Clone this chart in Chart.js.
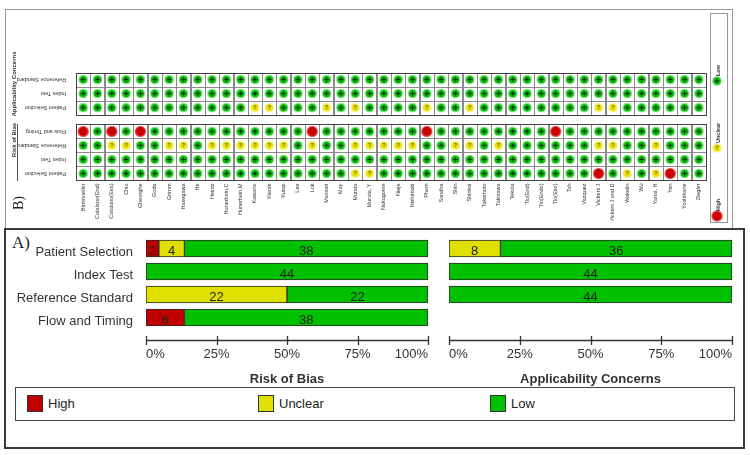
<!DOCTYPE html>
<html>
<head>
<meta charset="utf-8">
<script src="https://cdn.jsdelivr.net/npm/chart.js@4.4.1/dist/chart.umd.min.js"></script>
<style>
  body { margin: 0; background: #fff; width: 750px; height: 455px; position: relative; overflow: hidden;
         font-family: "Liberation Sans", Arial, sans-serif; }
  .abs { position: absolute; }
  #frameB { left: 5px; top: 9px; width: 726px; height: 219px; border: 1px solid #999; border-bottom: none; }
  #frameA { left: 4px; top: 228px; border: 2px solid #3a3a3a; box-sizing: border-box; width: 741px; height: 221px; }
  #legA { left: 15px; top: 387px; width: 720px; height: 34px; border: 1.5px solid #444; box-sizing: border-box; }
  .sw { width: 16px; height: 17px; border: 1px solid #333; box-sizing: border-box; top: 395px; }
  .lt { top: 395px; height: 17px; line-height: 17px; font-size: 13px; color: #222; }
  #tagA { left: 12px; top: 233px; font-family: "Liberation Serif", "Times New Roman", serif; font-size: 17px; color: #222; }
  canvas { position: absolute; }
</style>
</head>
<body>
<div id="frameB" class="abs"></div>
<div id="frameA" class="abs"></div>
<div id="legA" class="abs"></div>
<div class="abs sw" style="left:27px;background:#c00000"></div><div class="abs lt" style="left:48px">High</div>
<div class="abs sw" style="left:258px;background:#e0e000"></div><div class="abs lt" style="left:279px">Unclear</div>
<div class="abs sw" style="left:490px;background:#00c000"></div><div class="abs lt" style="left:511px">Low</div>
<div id="tagA" class="abs">A)</div>

<canvas id="grid" width="750" height="228" style="left:0;top:0"></canvas>
<canvas id="rob" width="440" height="158" style="left:0;top:229px"></canvas>
<canvas id="app" width="305" height="158" style="left:440px;top:229px"></canvas>

<script>
// studies, left to right
const studies = ['Bimmoeller','Catalano(End)','Catalano(Eva)','Chio','Gheorghe','Goda','Grimm','Hasegawa','He','Heintz',
  'Hunerbein,C','Hunerbein,M','Kawano','Kienle','Kutup','Lee','Lok','Massari','May','Murata',
  'Murata, Y','Nakagome','Nieje','Nishimaki','Pham','Sandha','Shin','Shinkai','Takemoto','Takizawa',
  'Tekola','Tio(End)','Tio(Endo)','Tio(Eso)','Toh','Vazquez','Vickers J','Vickers J and D','Wakelin','Wu',
  'Yanai, H','Yen','Yoshikane','Ziegler'];

// judgements per study: L = low, U = unclear, H = high
const robPatient   = 'LLLLLLLLLL LLLLLLLLLU ULLLLLLLLL LLLLLLHLUL UHLL'.replace(/ /g,'').split('');
const robIndex     = 'LLLLLLLLLL LLLLLLLLLL LLLLLLLLLL LLLLLLLLLL LLLL'.replace(/ /g,'').split('');
const robReference = 'LLUULLUULU UUUUULULLU UUUULLUULU LLLLLLUULL ULLL'.replace(/ /g,'').split('');
const robFlow      = 'HLHLHLLLLL LLLLLLHLLL LLLLHLLLLL LLLHLLLLLL LLLL'.replace(/ /g,'').split('');
const appPatient   = 'LLLLLLLLLL LLUULLLULU LLLLULLULL LLLLLLUULL LLLL'.replace(/ /g,'').split('');
const appIndex     = 'LLLLLLLLLL LLLLLLLLLL LLLLLLLLLL LLLLLLLLLL LLLL'.replace(/ /g,'').split('');
const appReference = 'LLLLLLLLLL LLLLLLLLLL LLLLLLLLLL LLLLLLLLLL LLLL'.replace(/ /g,'').split('');

// summary bars (number of studies)
const domains = ['Patient Selection','Index Test','Reference Standard','Flow and Timing'];
const robHigh    = [2, 0, 0, 6];
const robUnclear = [4, 0, 22, 0];
const robLow     = [38, 44, 22, 38];
const appHigh    = [0, 0, 0];
const appUnclear = [8, 0, 0];
const appLow     = [36, 44, 44];
const nStudies = 44;
const pctTicks = [0, 25, 50, 75, 100];

const RED = '#c00000', YEL = '#e0e000', GRN = '#00c000';
Chart.defaults.font.family = '"Liberation Sans", Arial, sans-serif';

// ---------- symbols for the traffic light grid
function makeSymbol(core, halo, r, mark) {
  const c = document.createElement('canvas');
  c.width = 13; c.height = 13;
  const g = c.getContext('2d');
  g.fillStyle = halo; g.beginPath(); g.arc(6.5, 6.5, r + 1.2, 0, Math.PI * 2); g.fill();
  g.fillStyle = core; g.beginPath(); g.arc(6.5, 6.5, r, 0, Math.PI * 2); g.fill();
  if (mark === '+') {
    g.strokeStyle = '#111'; g.lineWidth = 1;
    g.beginPath(); g.moveTo(4.5, 6.5); g.lineTo(8.5, 6.5); g.moveTo(6.5, 4.5); g.lineTo(6.5, 8.5); g.stroke();
  } else if (mark === '?') {
    g.fillStyle = '#444'; g.font = 'bold 5px "Liberation Sans"';
    g.textAlign = 'center'; g.textBaseline = 'middle'; g.fillText('?', 6.5, 6.8);
  }
  return c;
}
const symLow = makeSymbol('#00b800', '#7ee07e', 3.6, '+');
const symUnc = makeSymbol('#ece400', '#f6f2a0', 3.6, '?');
const symHigh = makeSymbol('#cc0000', '#d84040', 4.4, '');

const rows = [
  { name: 'Patient Selection', pos: 0, vals: robPatient },
  { name: 'Index Test', pos: 1, vals: robIndex },
  { name: 'Reference Standard', pos: 2, vals: robReference },
  { name: 'Flow and Timing', pos: 3, vals: robFlow },
  { name: 'Patient Selection', pos: 4.7, vals: appPatient },
  { name: 'Index Test', pos: 5.7, vals: appIndex },
  { name: 'Reference Standard', pos: 6.7, vals: appReference }
];
function pointsFor(code) {
  const pts = [];
  rows.forEach(r => r.vals.forEach((v, i) => { if (v === code) pts.push({ x: studies[i], y: r.pos }); }));
  return pts;
}

const gridDecor = {
  id: 'gridDecor',
  beforeDatasetsDraw(chart) {
    const { ctx, scales: { x, y } } = chart;
    const cw = x.getPixelForValue(1) - x.getPixelForValue(0);
    const ch = y.getPixelForValue(0) - y.getPixelForValue(1);
    ctx.save();
    ctx.strokeStyle = '#8a8a8a'; ctx.lineWidth = 1;
    rows.forEach(r => {
      const cy = y.getPixelForValue(r.pos);
      for (let i = 0; i < studies.length; i++) {
        const cx = x.getPixelForValue(i);
        ctx.strokeRect(Math.round(cx - cw / 2) + 0.5, Math.round(cy - ch / 2) + 0.5, Math.round(cw), Math.round(ch));
      }
    });
    // group outlines
    ctx.strokeStyle = '#444';
    [[0, 3], [4.7, 6.7]].forEach(([a, b]) => {
      const top = Math.round(y.getPixelForValue(b) - ch / 2) + 0.5;
      const bot = Math.round(y.getPixelForValue(a) + ch / 2) + 0.5;
      const l = Math.round(x.getPixelForValue(0) - cw / 2) + 0.5;
      const rr = Math.round(x.getPixelForValue(studies.length - 1) - cw / 2) + Math.round(cw) + 0.5;
      ctx.strokeRect(l, top, rr - l, bot - top);
    });
    ctx.restore();
  },
  afterDraw(chart) {
    const { ctx, scales: { y } } = chart;
    ctx.save();
    ctx.fillStyle = '#333';
    ctx.font = '5.5px "Liberation Sans"';
    ctx.textBaseline = 'middle';
    rows.forEach(r => {
      ctx.save();
      ctx.translate(chart.chartArea.left - 10, y.getPixelForValue(r.pos));
      ctx.rotate(Math.PI);
      ctx.textAlign = 'left';
      ctx.fillText(r.name, 0, 0);
      ctx.restore();
    });
    // group titles
    ctx.font = 'bold 6px "Liberation Sans"';
    ctx.textAlign = 'center';
    [['Applicability Concerns', 84], ['Risk of Bias', 140]].forEach(([t, cy]) => {
      ctx.save(); ctx.translate(14, cy); ctx.rotate(-Math.PI / 2); ctx.fillText(t, 0, 0); ctx.restore();
    });
    ctx.strokeStyle = '#555'; ctx.lineWidth = 1;
    ctx.beginPath(); ctx.moveTo(17.5, 124); ctx.lineTo(17.5, 181); ctx.stroke();
    // panel tag
    ctx.font = '14px "Liberation Serif"';
    ctx.fillStyle = '#222';
    ctx.save(); ctx.translate(19, 203); ctx.rotate(-Math.PI / 2); ctx.fillText('B)', 0, 0); ctx.restore();
    // legend
    ctx.strokeStyle = '#999';
    ctx.strokeRect(710.5, 13.5, 17, 209);
    ctx.font = 'bold 5.5px "Liberation Sans"';
    ctx.fillStyle = '#333';
    ctx.textAlign = 'left';
    [[symHigh, 'High', 216], [symUnc, 'Unclear', 148], [symLow, 'Low', 81]].forEach(([img, t, cy]) => {
      ctx.drawImage(img, 717 - 6.5, cy - 6.5);
      ctx.save(); ctx.translate(718, cy - 5); ctx.rotate(-Math.PI / 2); ctx.fillText(t, 0, 0); ctx.restore();
    });
    ctx.restore();
  }
};

new Chart(document.getElementById('grid'), {
  type: 'scatter',
  data: {
    datasets: [
      { label: 'Low', data: pointsFor('L'), pointStyle: symLow },
      { label: 'Unclear', data: pointsFor('U'), pointStyle: symUnc },
      { label: 'High', data: pointsFor('H'), pointStyle: symHigh }
    ]
  },
  options: {
    responsive: false, animation: false,
    layout: { padding: { left: 76, right: 44, top: 72.5, bottom: 7.5 } },
    plugins: { legend: { display: false }, tooltip: { enabled: false } },
    scales: {
      x: {
        type: 'category', labels: studies, offset: true,
        grid: { display: false, drawTicks: false }, border: { display: false },
        ticks: { autoSkip: false, minRotation: 90, maxRotation: 90, padding: 3, color: '#333', font: { size: 5.5 } },
        afterFit(s) { s.height = 40; }
      },
      y: { type: 'linear', min: -0.5, max: 7.2, display: false }
    }
  },
  plugins: [gridDecor]
});

// ---------- summary bars
const valueLabels = {
  id: 'valueLabels',
  afterDatasetsDraw(chart) {
    const { ctx } = chart;
    ctx.save();
    ctx.font = '13px "Liberation Sans"';
    ctx.fillStyle = '#222';
    ctx.textAlign = 'center';
    ctx.textBaseline = 'middle';
    chart.data.datasets.forEach((ds, di) => {
      chart.getDatasetMeta(di).data.forEach((el, i) => {
        const n = ds.counts[i];
        if (!n) return;
        ctx.fillText(String(n), (el.x + el.base) / 2, el.y + 2.5);
      });
    });
    ctx.restore();
  }
};
const axisLine = {
  id: 'axisLine',
  afterDraw(chart) {
    const { ctx, scales: { x } } = chart;
    const yy = Math.round(chart.chartArea.bottom + 11) + 0.5;
    ctx.save();
    ctx.strokeStyle = '#333'; ctx.lineWidth = 1.3;
    ctx.beginPath();
    ctx.moveTo(x.left, yy); ctx.lineTo(x.right, yy);
    pctTicks.forEach(v => {
      const px = Math.round(x.getPixelForValue(v)) + 0.5;
      ctx.moveTo(px, yy - 4.5); ctx.lineTo(px, yy + 4.5);
    });
    ctx.stroke();
    ctx.restore();
  }
};

function summaryChart(el, high, unclear, low, title, showLabels, padLeft, padRight) {
  const pct = arr => arr.map(v => v ? v / nStudies * 100 : null);
  const bar = { borderWidth: 1, borderColor: '#2a2a2a', borderSkipped: false, barThickness: 17 };
  return new Chart(el, {
    type: 'bar',
    data: {
      labels: domains,
      datasets: [
        Object.assign({ label: 'High', data: pct(high), counts: high, backgroundColor: RED }, bar),
        Object.assign({ label: 'Unclear', data: pct(unclear), counts: unclear, backgroundColor: YEL }, bar),
        Object.assign({ label: 'Low', data: pct(low), counts: low, backgroundColor: GRN }, bar)
      ]
    },
    options: {
      indexAxis: 'y', responsive: false, animation: false,
      layout: { padding: { top: 8, right: padRight, left: padLeft, bottom: 0 } },
      plugins: { legend: { display: false }, tooltip: { enabled: false } },
      scales: {
        y: {
          stacked: true, display: showLabels,
          grid: { display: false, drawTicks: false }, border: { display: false },
          ticks: { color: '#333', padding: 13, labelOffset: 4, font: { size: 13 } },
          afterFit(s) { s.width = showLabels ? 146 : 0; s.paddingTop = 0; s.paddingBottom = 0; }
        },
        x: {
          stacked: true, min: 0, max: 100,
          grid: { display: false, drawTicks: false }, border: { display: false },
          afterBuildTicks(s) { s.ticks = pctTicks.map(v => ({ value: v })); },
          ticks: { align: 'inner', padding: 18, maxRotation: 0, color: '#333', font: { size: 13 }, callback: v => v + '%' },
          title: { display: true, text: title, color: '#333', font: { size: 13, weight: 'bold' }, padding: { top: 1, bottom: 0 } },
          afterFit(s) { s.height = 58; s.paddingLeft = 0; s.paddingRight = 0; }
        }
      }
    },
    plugins: [valueLabels, axisLine]
  });
}

summaryChart(document.getElementById('rob'), robHigh, robUnclear, robLow, 'Risk of Bias', true, 0, 12);
summaryChart(document.getElementById('app'), appHigh, appUnclear, appLow, 'Applicability Concerns', false, 9, 13);
</script>
</body>
</html>
